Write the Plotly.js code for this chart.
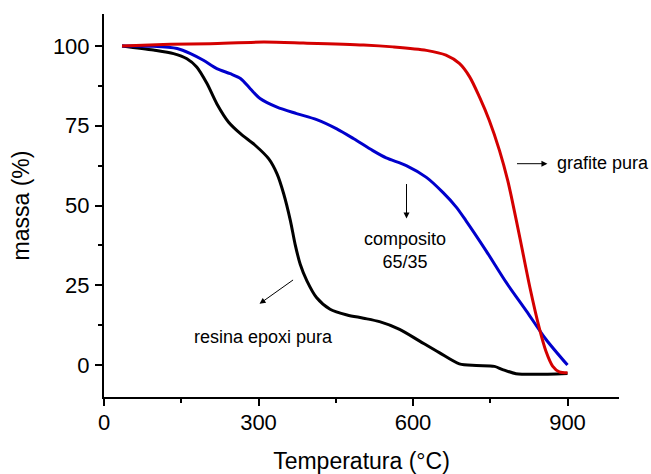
<!DOCTYPE html>
<html>
<head>
<meta charset="utf-8">
<script src="https://cdn.plot.ly/plotly-3.0.1.min.js"></script>
<style>
  html, body { margin: 0; padding: 0; background: #fff; }
  #chart { width: 651px; height: 474px; }
</style>
</head>
<body>
<div id="chart"></div>
<script>
// Thermogravimetric curves: mass (%) versus temperature (°C)
const resinaTemp = [35, 96, 135, 161, 180, 200, 219, 242, 265, 294, 320, 336, 349, 362, 371, 381, 394, 413, 439, 472, 504, 535, 574, 613, 651, 690, 723, 758, 774, 800, 839, 900];
const resinaMassa = [100, 98.7, 97.6, 96, 93.4, 88.2, 81.9, 76.1, 72.5, 68.8, 64.6, 59.9, 53.6, 45.2, 37.9, 31.6, 26.4, 21.1, 17.5, 15.7, 14.7, 13.6, 11.2, 7.5, 3.9, 0.4, -0.1, -0.4, -1.4, -2.7, -2.9, -2.6];

const compositoTemp = [35, 96, 142, 168, 193, 219, 245, 265, 284, 303, 336, 374, 413, 452, 485, 522, 548, 587, 626, 658, 684, 703, 742, 781, 820, 858, 900];
const compositoMassa = [100, 99.9, 99.2, 97.6, 95.5, 92.9, 91.3, 89.8, 86.6, 83.5, 80.8, 78.8, 76.9, 74, 70.9, 67.2, 64.9, 62.5, 58.8, 54.1, 49.5, 45.2, 35.8, 25.9, 17, 8.1, 0];

const grafiteTemp = [35, 129, 206, 310, 387, 504, 561, 626, 664, 690, 710, 729, 748, 768, 784, 792, 808, 827, 845, 858, 871, 884, 900];
const grafiteMassa = [100, 100.5, 100.7, 101.2, 100.9, 100.3, 99.7, 98.6, 97.1, 94.5, 90.3, 84, 76.7, 67.2, 57.8, 52, 39.5, 24.3, 11.7, 4.4, -0.3, -2.1, -2.4];

const xTickVals = [0, 300, 600, 900];
const yTickVals = [0, 25, 50, 75, 100];

const FONT = '"Liberation Sans", Arial, sans-serif';

function curve(x, y, color) {
  return {
    x: x, y: y, type: 'scatter', mode: 'lines',
    line: { color: color, width: 3, shape: 'spline', smoothing: 0.8 },
    hoverinfo: 'skip', showlegend: false
  };
}

const traces = [
  curve(resinaTemp, resinaMassa, '#000000'),
  curve(compositoTemp, compositoMassa, '#0000cc'),
  curve(grafiteTemp, grafiteMassa, '#d40000')
];

function arrow(xHead, yHead, xTail, yTail) {
  return {
    x: xHead, y: yHead, ax: xTail, ay: yTail,
    xref: 'x', yref: 'y', axref: 'x', ayref: 'y',
    text: '', showarrow: true, arrowhead: 2, arrowsize: 1.2, arrowwidth: 1,
    arrowcolor: '#000', standoff: 0, startstandoff: 0
  };
}

function label(x, y, text, xanchor) {
  return {
    x: x, y: y, xref: 'x', yref: 'y', text: text, showarrow: false,
    xanchor: xanchor, yanchor: 'middle',
    font: { family: FONT, size: 18, color: '#000' }
  };
}

const layout = {
  width: 651, height: 474,
  margin: { l: 104, r: 32, t: 14, b: 77 },
  paper_bgcolor: '#fff', plot_bgcolor: '#fff',
  font: { family: FONT, color: '#000' },
  xaxis: {
    range: [0, 1000], tickvals: xTickVals,
    showgrid: false, zeroline: false,
    showline: true, linecolor: '#000', linewidth: 2,
    ticks: 'outside', ticklen: 7, tickwidth: 2, tickcolor: '#000',
    minor: { tickvals: [150, 450, 750], ticks: 'outside', ticklen: 4, tickwidth: 2, tickcolor: '#000' },
    tickfont: { family: FONT, size: 22, color: '#000' },
    ticklabelstandoff: -2,
    title: { text: 'Temperatura (°C)', font: { family: FONT, size: 23, color: '#000' }, standoff: 20 }
  },
  yaxis: {
    range: [-10, 110], tickvals: yTickVals,
    showgrid: false, zeroline: false,
    showline: true, linecolor: '#000', linewidth: 2,
    ticks: 'outside', ticklen: 7, tickwidth: 2, tickcolor: '#000',
    minor: { tickvals: [12.5, 37.5, 62.5, 87.5], ticks: 'outside', ticklen: 4, tickwidth: 2, tickcolor: '#000' },
    tickfont: { family: FONT, size: 22, color: '#000' },
    ticklabelstandoff: 1,
    title: { text: 'massa (%)', font: { family: FONT, size: 23, color: '#000' }, standoff: 17 }
  },
  annotations: [
    arrow(861, 63.1, 799, 63.1),
    label(876, 63.3, 'grafite pura', 'left'),
    arrow(587.4, 45.9, 587.4, 57.2),
    label(584, 35.8, 'composito<br>65/35', 'center'),
    arrow(302, 19.2, 370, 27),
    label(310, 8.8, 'resina epoxi pura', 'center')
  ],
  showlegend: false
};

Plotly.newPlot('chart', traces, layout, { staticPlot: true, displayModeBar: false });
</script>
</body>
</html>
